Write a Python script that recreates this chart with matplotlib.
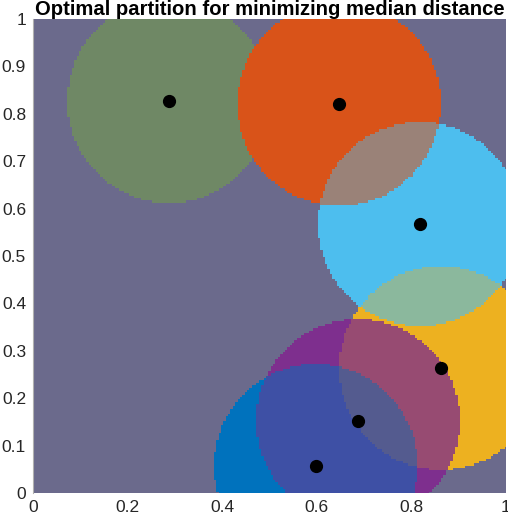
import numpy as np
import matplotlib
matplotlib.use("Agg")
import matplotlib.pyplot as plt

# Cluster centres (data coordinates) and radius of the median-distance disc
cx = [0.2875, 0.647, 0.818, 0.8626, 0.687, 0.598]
cy = [0.827, 0.821, 0.5675, 0.2637, 0.152, 0.057]
radius = [0.215, 0.215, 0.215, 0.215, 0.215, 0.215]
names = ["G", "O", "C", "Y", "P", "B"]

# Colours of each region (set of covering discs)
background = "#6B6A8C"
region_colors = {
    "G": "#6F8865",
    "O": "#D95319",
    "C": "#4DBEEE",
    "Y": "#EDB120",
    "P": "#7E2F8E",
    "B": "#0072BD",
    "GO": "#D95319",
    "OC": "#9A8278",
    "CY": "#8BB89D",
    "YP": "#974B72",
    "PB": "#3E50A5",
    "YPB": "#545B8F",
    "YB": "#545B8F",
    "CP": "#7E2F8E",
    "CYP": "#974B72",
}

N = 201
g = np.linspace(0, 1, N)
X, Y = np.meshgrid(g, g)
img = np.zeros((N, N, 3))
img[:] = matplotlib.colors.to_rgb(background)
masks = [((X - x) ** 2 + (Y - y) ** 2) <= r ** 2 for x, y, r in zip(cx, cy, radius)]
keys = np.full((N, N), "", dtype=object)
for nm, m in zip(names, masks):
    keys[m] = keys[m] + nm
for k, col in region_colors.items():
    img[keys == k] = matplotlib.colors.to_rgb(col)

fig = plt.figure(figsize=(5.08, 5.20), dpi=100)
ax = fig.add_axes([33 / 508, 27 / 520, 473 / 508, 474 / 520])
d = 0.5 / (N - 1)
ax.imshow(img, origin="lower", extent=(-d, 1 + d, -d, 1 + d), interpolation="nearest", aspect="auto")
ax.plot(cx, cy, "o", color="black", markersize=8.5, zorder=3)
ax.set_xlim(0, 1)
ax.set_ylim(0, 1)
ax.set_xticks([0, 0.2, 0.4, 0.6, 0.8, 1])
ax.set_xticklabels(["0", "0.2", "0.4", "0.6", "0.8", "1"])
ax.set_yticks(np.round(np.arange(0, 1.01, 0.1), 1))
ax.set_yticklabels(["0", "0.1", "0.2", "0.3", "0.4", "0.5", "0.6", "0.7", "0.8", "0.9", "1"])
for s in ["top", "right", "bottom"]:
    ax.spines[s].set_visible(False)
ax.spines["left"].set_color("#b0b0b0")
ax.spines["left"].set_linewidth(0.8)
ax.tick_params(length=0, labelsize=12.5, labelcolor="#262626", pad=5)
for lab in ax.get_xticklabels() + ax.get_yticklabels():
    lab.set_family("Liberation Sans")
ax.set_title("Optimal partition for minimizing median distance", fontsize=14.6,
             fontweight="bold", family="Liberation Sans", pad=3)
fig.savefig("out.png", dpi=100)
